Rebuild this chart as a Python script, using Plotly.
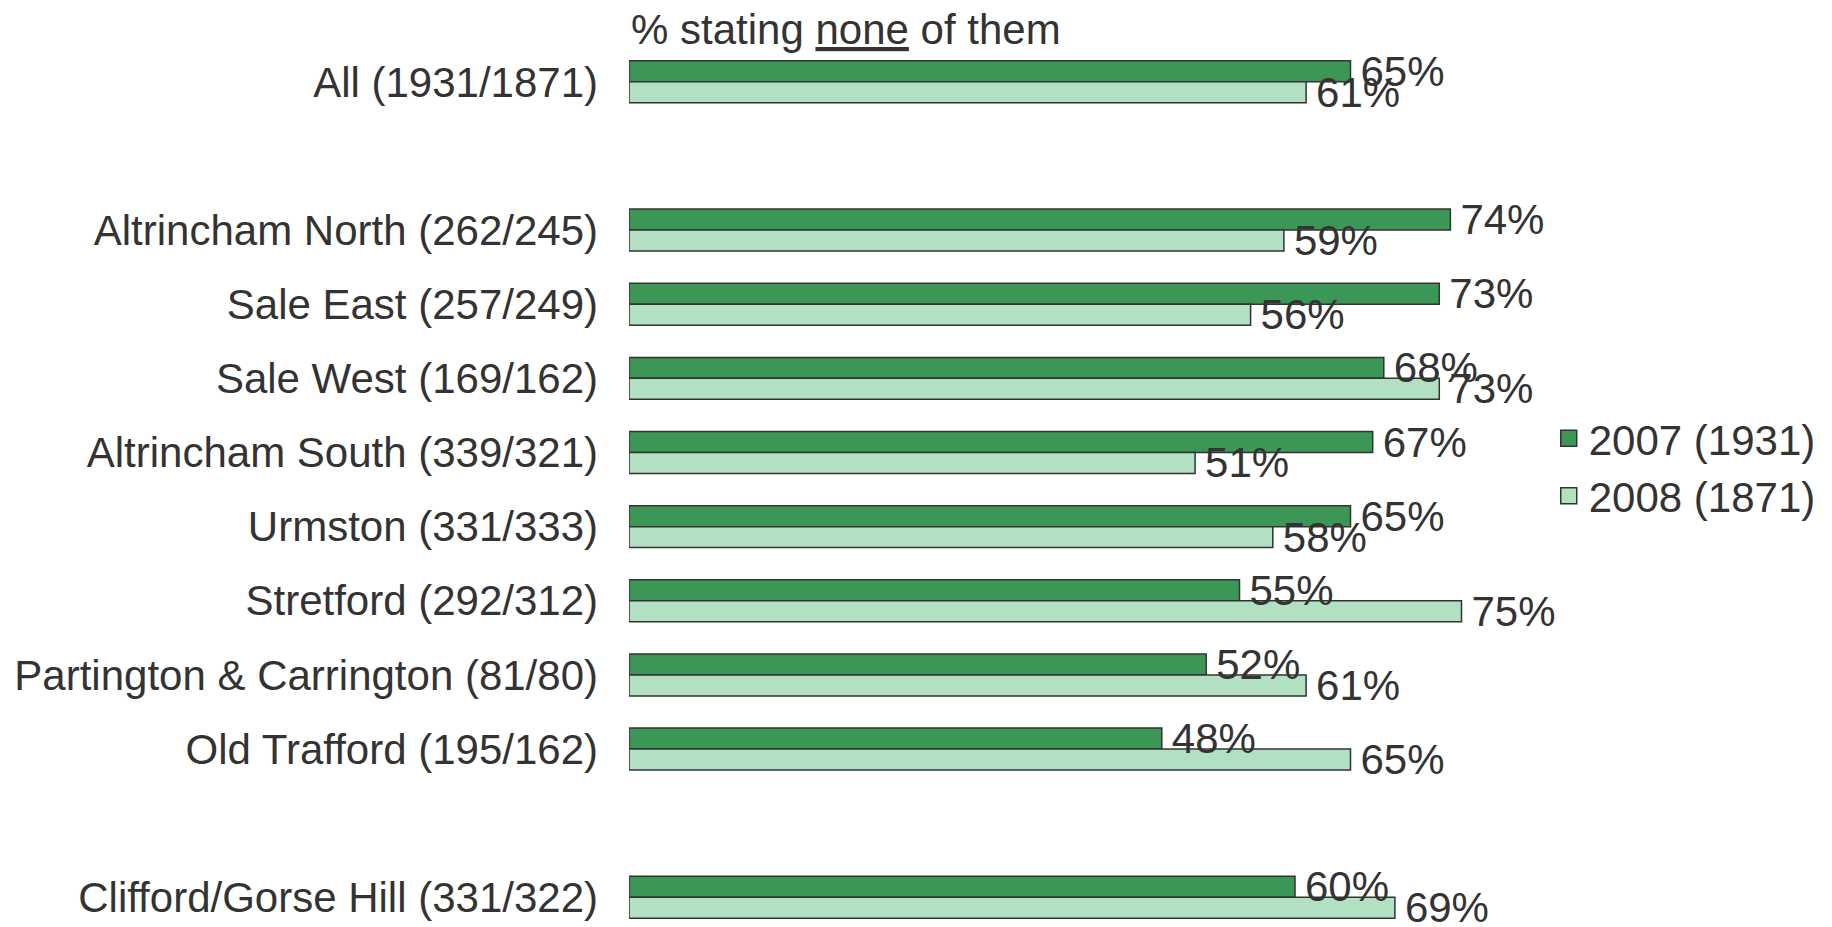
import plotly.graph_objects as go

categories = ["All (1931/1871)", " ", "Altrincham North (262/245)", "Sale East (257/249)",
              "Sale West (169/162)", "Altrincham South (339/321)", "Urmston (331/333)",
              "Stretford (292/312)", "Partington & Carrington (81/80)", "Old Trafford (195/162)",
              "  ", "Clifford/Gorse Hill (331/322)"]
values_2007 = [65, None, 74, 73, 68, 67, 65, 55, 52, 48, None, 60]
values_2008 = [61, None, 59, 56, 73, 51, 58, 75, 61, 65, None, 69]
series_names = ["2007 (1931)", "2008 (1871)"]
title_text = "% stating <u>none</u> of them"

FONT = "Liberation Sans, Arial, sans-serif"
TXT = "#333333"
colors = ["#3C9656", "#B2E0C2"]
groups = ["g2007", "g2008"]
series_values = [values_2007, values_2008]

fig = go.Figure()
# bars
for name, vals, col, grp in zip(series_names, series_values, colors, groups):
    fig.add_trace(go.Bar(
        y=categories, x=vals, name=name, orientation="h", showlegend=False,
        offsetgroup=grp,
        marker=dict(color=col, line=dict(color="#333333", width=1.5)),
        hoverinfo="skip",
    ))
# value labels drawn on top of all bars
for name, vals, grp in zip(series_names, series_values, groups):
    fig.add_trace(go.Bar(
        y=categories, x=vals, name=name, orientation="h", showlegend=False,
        offsetgroup=grp,
        marker=dict(color="rgba(0,0,0,0)", line=dict(width=0)),
        text=[f"\u2006{v}%" if v is not None else "" for v in vals],
        textposition="outside", constraintext="none", cliponaxis=False,
        textfont=dict(family=FONT, size=42, color=TXT),
    ))
# legend entries
for name, col in zip(series_names, colors):
    fig.add_trace(go.Scatter(
        x=[None], y=[None], mode="markers", name=name, showlegend=True,
        marker=dict(symbol="square", size=20, color=col, line=dict(color="#333333", width=1.5)),
    ))

fig.update_layout(
    width=1824, height=919,
    margin=dict(l=620.6, r=92.6, t=32, b=7),
    paper_bgcolor="white", plot_bgcolor="white",
    barmode="group", bargap=0.434, bargroupgap=0,
    font=dict(family=FONT, size=42, color=TXT),
    xaxis=dict(range=[0, 100], visible=False, showgrid=False, zeroline=False),
    yaxis=dict(type="category", categoryorder="array", categoryarray=categories,
               range=[11.306, -0.564], showgrid=False, zeroline=False, showline=False,
               ticks="", ticklabelstandoff=30,
               tickfont=dict(family=FONT, size=42, color=TXT)),
    legend=dict(x=0.8286, xanchor="left", y=0.5144, yanchor="middle",
                font=dict(family=FONT, size=42, color=TXT), bgcolor="rgba(0,0,0,0)",
                traceorder="normal", itemsizing="trace"),
    showlegend=True,
    annotations=[dict(text=title_text, xref="paper", yref="paper", x=0, y=0.9824,
                      xanchor="left", yanchor="bottom", showarrow=False,
                      font=dict(family=FONT, size=42, color=TXT))],
)

fig.write_html("out.html")
